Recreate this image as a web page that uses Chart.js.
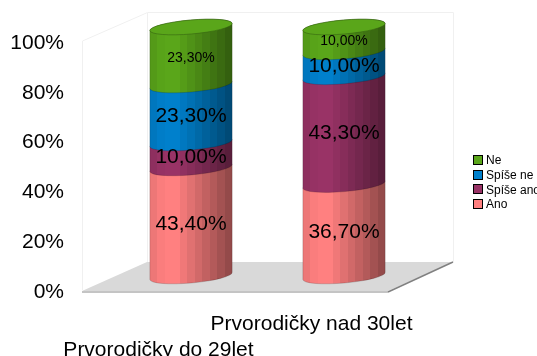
<!DOCTYPE html>
<html>
<head>
<meta charset="utf-8">
<style>
  html, body { margin: 0; padding: 0; background: #fff; overflow: hidden; }
  canvas { display: block; }
</style>
<script src="https://cdn.jsdelivr.net/npm/chart.js@4"></script>
</head>
<body>
<canvas id="chart" width="537" height="356"></canvas>
<script>
// data
const categories = [["", "Prvorodičky do 29let"], "Prvorodičky nad 30let"];
const series_names = ["Ano", "Spíše ano", "Spíše ne", "Ne"];
const ano = [43.4, 36.7];
const spise_ano = [10.0, 43.3];
const spise_ne = [23.3, 10.0];
const ne = [23.3, 10.0];
const y_ticks = [0, 20, 40, 60, 80, 100];

const font_name = '"Liberation Sans", Arial, sans-serif';
const series_colors = [[255, 128, 128], [153, 51, 102], [0, 128, 204], [90, 166, 26]];
const label_sizes = [21, 21, 21, 14];

// fake 3d box, offset of the back wall from the axis plane
const depth_x = 65;
const depth_y = -28;
const band_shades = [0.93, 0.98, 1, 1, 0.94, 0.88, 0.82, 0.76, 0.7, 0.64, 0.58];
const ellipse_ry = 7;
const ellipse_rot = -5 * Math.PI / 180;

function rgb(c, k) {
  return `rgb(${Math.round(c[0] * k)},${Math.round(c[1] * k)},${Math.round(c[2] * k)})`;
}

function band_gradient(ctx, left, right, color) {
  const grad = ctx.createLinearGradient(left, 0, right, 0);
  band_shades.forEach((k, i) => {
    grad.addColorStop(i / band_shades.length, rgb(color, k));
    grad.addColorStop((i + 1) / band_shades.length, rgb(color, k));
  });
  return grad;
}

function format_value(v) {
  return v.toFixed(2).replace(".", ",") + "%";
}

// draws one series as cylinder pieces, from the positions of its bar elements
function draw_cylinders(chart, index) {
  const { ctx } = chart;
  const color = series_colors[index];
  chart.getDatasetMeta(index).data.forEach(bar => {
    const p = bar.getProps(["x", "y", "base", "width"], true);
    const cx = p.x + depth_x / 2;
    const rx = p.width / 2;
    const top = p.y + depth_y / 2;
    const bottom = p.base + depth_y / 2;
    ctx.beginPath();
    ctx.ellipse(cx, top, rx, ellipse_ry, ellipse_rot, Math.PI, 2 * Math.PI);
    ctx.ellipse(cx, bottom, rx, ellipse_ry, ellipse_rot, 0, Math.PI);
    ctx.closePath();
    ctx.fillStyle = band_gradient(ctx, cx - rx, cx + rx, color);
    ctx.fill();
    ctx.strokeStyle = "rgba(0,0,0,0.25)";
    ctx.lineWidth = 0.6;
    ctx.stroke();
    if (index === series_names.length - 1) {
      ctx.beginPath();
      ctx.ellipse(cx, top, rx, ellipse_ry, ellipse_rot, 0, 2 * Math.PI);
      ctx.fillStyle = rgb(color, 1);
      ctx.fill();
      ctx.strokeStyle = rgb(color, 0.6);
      ctx.stroke();
    }
  });
}

const box_plugin = {
  id: "box3d",
  beforeDatasetsDraw(chart) {
    const { ctx, chartArea: a } = chart;
    ctx.save();
    // walls
    ctx.strokeStyle = "#f0f0f0";
    ctx.lineWidth = 1;
    ctx.beginPath();
    ctx.moveTo(a.left + 0.5, a.bottom);
    ctx.lineTo(a.left + 0.5, a.top);
    ctx.lineTo(a.left + depth_x + 0.5, a.top + depth_y - 0.5);
    ctx.lineTo(a.right + depth_x + 0.5, a.top + depth_y - 0.5);
    ctx.lineTo(a.right + depth_x + 0.5, a.bottom + depth_y);
    ctx.moveTo(a.left + depth_x + 0.5, a.top + depth_y);
    ctx.lineTo(a.left + depth_x + 0.5, a.bottom + depth_y);
    ctx.stroke();
    // floor
    ctx.fillStyle = "#d9d9d9";
    ctx.beginPath();
    ctx.moveTo(a.left, a.bottom + 1);
    ctx.lineTo(a.left + depth_x, a.bottom + depth_y);
    ctx.lineTo(a.right + depth_x, a.bottom + depth_y);
    ctx.lineTo(a.right, a.bottom + 1);
    ctx.closePath();
    ctx.fill();
    ctx.fillStyle = "#c4c4c4";
    ctx.fillRect(a.left, a.bottom + 1, a.right - a.left, 2);
    ctx.strokeStyle = "#808080";
    ctx.lineWidth = 1.5;
    ctx.beginPath();
    ctx.moveTo(a.right, a.bottom + 2);
    ctx.lineTo(a.right + depth_x, a.bottom + depth_y);
    ctx.stroke();
    ctx.restore();
  },
  // plain bars are skipped, chart.js walks datasets last to first and the
  // cylinders need first to last, so all of them are done in afterDatasetsDraw
  beforeDatasetDraw() {
    return false;
  },
  afterDatasetsDraw(chart) {
    const { ctx } = chart;
    ctx.save();
    series_names.forEach((name, i) => draw_cylinders(chart, i));
    ctx.fillStyle = "#000";
    ctx.textAlign = "center";
    ctx.textBaseline = "middle";
    chart.data.datasets.forEach((ds, i) => {
      ctx.font = `${label_sizes[i]}px ${font_name}`;
      chart.getDatasetMeta(i).data.forEach((bar, j) => {
        const p = bar.getProps(["x", "y", "base"], true);
        ctx.fillText(format_value(ds.data[j]), p.x + depth_x / 2, (p.y + p.base) / 2 + depth_y / 2 + 2);
      });
    });
    // legend, cut by the window edge like the original
    ctx.font = `12px ${font_name}`;
    ctx.textAlign = "left";
    const legend_x = 473;
    const legend_y = 160;
    for (let i = series_names.length - 1, row = 0; i >= 0; i--, row++) {
      const y = legend_y + row * 14.6;
      const box_y = Math.round(y - 5);
      ctx.fillStyle = rgb(series_colors[i], 1);
      ctx.fillRect(legend_x, box_y, 10, 10);
      ctx.strokeStyle = "#000";
      ctx.lineWidth = 1;
      ctx.strokeRect(legend_x + 0.5, box_y + 0.5, 9, 9);
      ctx.fillStyle = "#000";
      ctx.fillText(series_names[i], legend_x + 13, y + 1);
    }
    ctx.restore();
  }
};

const all_values = [ano, spise_ano, spise_ne, ne];

new Chart(document.getElementById("chart"), {
  type: "bar",
  data: {
    labels: categories,
    datasets: series_names.map((name, i) => ({
      label: name,
      data: all_values[i],
      backgroundColor: rgb(series_colors[i], 1),
      categoryPercentage: 1,
      barPercentage: 0.54
    }))
  },
  plugins: [box_plugin],
  options: {
    responsive: false,
    animation: false,
    layout: { padding: { top: 41, right: 149, left: 0, bottom: 0 } },
    plugins: { legend: { display: false }, tooltip: { enabled: false } },
    scales: {
      x: {
        stacked: true,
        afterFit(scale) { scale.height = 66; },
        grid: { display: false },
        border: { display: false },
        ticks: {
          autoSkip: false,
          maxRotation: 0,
          padding: 14,
          color: "#000",
          font: { family: font_name, size: 21, lineHeight: 1.2 }
        }
      },
      y: {
        stacked: true,
        min: y_ticks[0],
        max: y_ticks[y_ticks.length - 1],
        afterFit(scale) { scale.width = 82; },
        grid: { display: false, drawTicks: false },
        border: { display: false },
        ticks: {
          stepSize: 20,
          padding: 18,
          labelOffset: 2,
          color: "#000",
          font: { family: font_name, size: 21 },
          callback: v => v + "%"
        }
      }
    }
  }
});
</script>
</body>
</html>
